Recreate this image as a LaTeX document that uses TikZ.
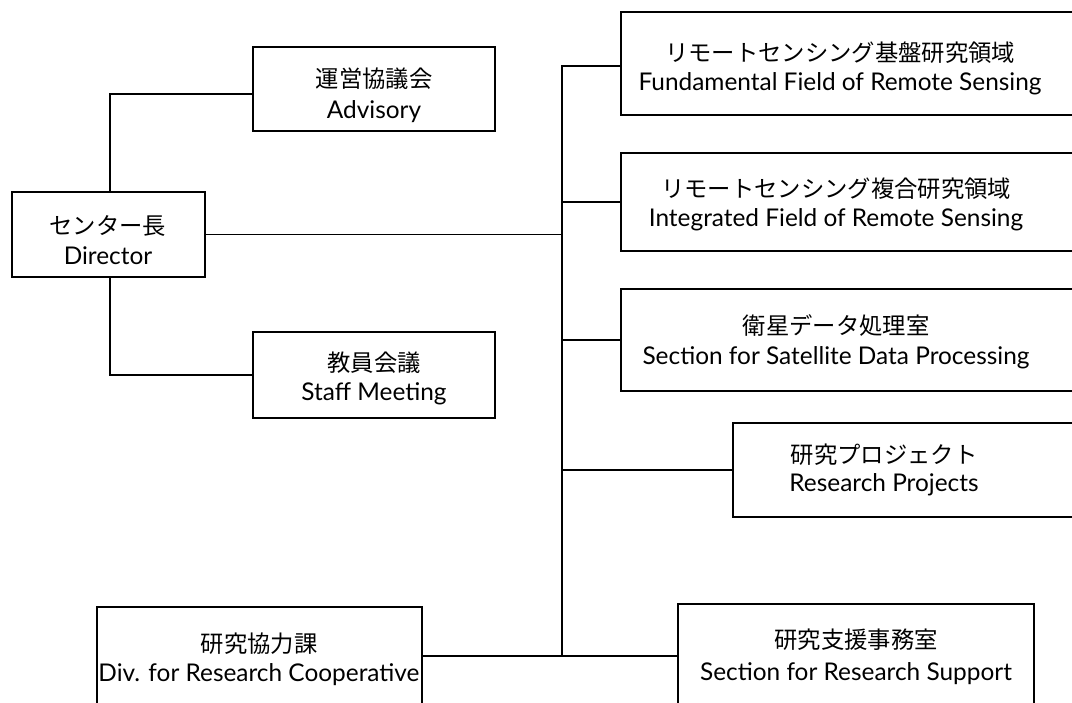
\documentclass[tikz,border=0pt]{standalone}
\usepackage{fontspec}
\setmainfont{Lato}
\newfontfamily\jpfont{Noto Sans CJK JP}
\usetikzlibrary{fit}
\begin{document}
\begin{tikzpicture}[x=0.75pt,y=-0.75pt,
  box/.style={draw, line width=1.3pt, inner sep=0pt},
  conn/.style={draw, line width=1.3pt},
  jp/.style={anchor=base, inner sep=0pt, font=\jpfont\fontsize{17.5}{20}\selectfont},
  en/.style={anchor=base, inner sep=0pt, font=\fontsize{18.3}{20}\selectfont}]
\useasboundingbox (0,0) rectangle (1072,703);
\clip (0,0) rectangle (1072,703);
% boxes
\node[box, fit={(12,192) (205,277)}] (dir) {};
\node[box, fit={(253,47) (495,131)}] (adv) {};
\node[box, fit={(253,332) (495,418)}] (staff) {};
\node[box, fit={(621,12) (1090,115)}] (b1) {};
\node[box, fit={(621,153) (1090,251)}] (b2) {};
\node[box, fit={(621,289) (1090,391)}] (b3) {};
\node[box, fit={(733,423) (1090,517)}] (b4) {};
\node[box, fit={(97,607) (422,720)}] (div) {};
\node[box, fit={(678,604) (1034,720)}] (sup) {};
% texts
\node[jp] (dirj) at (108,234) {センター長};
\node[en] (dire) at (108,264) {Director};
\node[jp] (advj) at (374,87) {運営協議会};
\node[en] (adve) at (374,118) {Advisory};
\node[jp] (staffj) at (374,371) {教員会議};
\node[en] (staffe) at (374,400) {Staff Meeting};
\node[jp] (b1j) at (840,61) {リモートセンシング基盤研究領域};
\node[en] (b1e) at (840,90) {Fundamental Field of Remote Sensing};
\node[jp] (b2j) at (836,197) {リモートセンシング複合研究領域};
\node[en] (b2e) at (836,226) {Integrated Field of Remote Sensing};
\node[jp] (b3j) at (836,334) {衛星データ処理室};
\node[en] (b3e) at (836,364) {Section for Satellite Data Processing};
\node[jp] (b4j) at (884,463) {研究プロジェクト};
\node[en] (b4e) at (884,491) {Research Projects};
\node[jp] (divj) at (259,652) {研究協力課};
\node[en] (dive) at (259,681) {Div. for Research Cooperative};
\node[jp] (supj) at (856,648) {研究支援事務室};
\node[en] (supe) at (856,680) {Section for Research Support};
% junctions
\coordinate (jl) at (110,94);
\coordinate (ttop) at (562,66);
\coordinate (tbot) at (562,656);
% connectors
\draw[conn] (adv.west |- jl) -| (dir.north -| jl);
\draw[conn] (staff.west) -| (dir.south -| jl);
\draw[conn] (dir.east) -- (dir.east -| ttop);
\draw[conn] (b1.west |- ttop) -- (ttop) -- (tbot);
\draw[conn] (b2.west) -- (b2.west -| ttop);
\draw[conn] (b3.west) -- (b3.west -| ttop);
\draw[conn] (b4.west) -- (b4.west -| ttop);
\draw[conn] (div.east |- tbot) -- (sup.west |- tbot);
\end{tikzpicture}
\end{document}
